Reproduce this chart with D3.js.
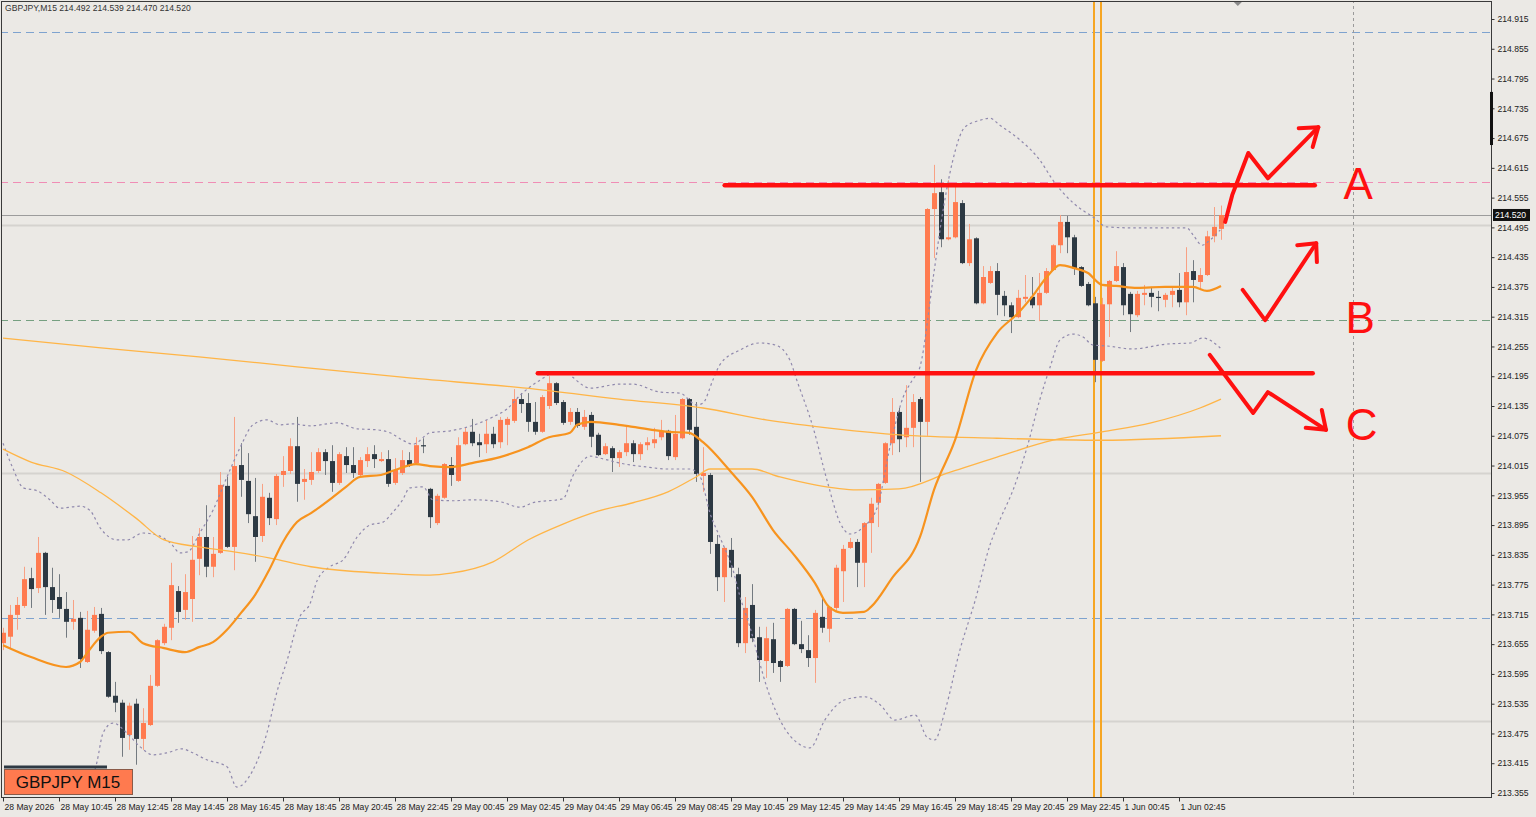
<!DOCTYPE html>
<html>
<head>
<meta charset="utf-8">
<script src="https://cdn.jsdelivr.net/npm/d3@7"></script>
<style>
  body { margin: 0; background: #ebe9e5; }
  svg { display: block; }
  .axis text { font-family: "Liberation Sans", Arial, sans-serif; font-size: 8.6px; fill: #222; }
  .axis line { stroke: #333; }
</style>
</head>
<body>
<svg width="1536" height="817"></svg>
<script>
"use strict";

// GBPJPY M15, bar 0 = 28 May 08:45
const candleO = [
  213.657,213.670,213.714,213.732,213.788,213.768,213.839,213.770,213.750,213.726,
  213.700,213.708,213.619,213.682,213.716,213.639,213.551,213.537,213.472,213.535,
  213.464,213.492,213.571,213.657,213.688,213.762,213.724,213.746,213.827,213.871,
  213.811,213.839,213.974,213.851,214.016,213.984,213.913,213.873,213.950,213.907,
  213.996,214.004,214.054,213.982,213.986,214.004,214.042,214.024,213.980,214.034,
  214.016,213.996,214.024,214.038,214.024,214.028,213.980,214.000,214.026,214.020,
  214.056,213.968,213.899,213.950,214.016,213.984,214.058,214.083,214.062,214.058,
  214.079,214.062,214.097,214.105,214.149,214.141,214.103,214.083,214.135,214.181,
  214.143,214.103,214.123,214.093,214.117,214.077,214.038,214.050,214.030,214.042,
  214.060,214.038,214.056,214.060,214.072,214.085,214.032,214.070,214.149,214.093,
  213.994,213.996,213.857,213.790,213.845,213.796,213.657,213.734,213.669,213.621,
  213.665,213.621,213.611,213.726,213.655,213.643,213.627,213.710,213.686,213.728,
  213.802,213.849,213.861,213.819,213.899,213.940,213.980,214.060,214.123,214.072,
  214.091,214.149,214.103,214.532,214.566,214.471,214.475,214.544,214.423,214.473,
  214.342,214.383,214.407,214.357,214.338,214.314,214.351,214.355,214.338,214.363,
  214.409,214.459,214.506,214.475,214.415,214.381,214.342,214.226,214.340,214.387,
  214.415,214.361,214.318,214.359,214.363,214.355,214.349,214.359,214.369,214.344,
  214.407,214.385,214.399,214.477,214.492
];
const candleH = [
  213.688,213.734,213.750,213.811,213.809,213.871,213.841,213.809,213.796,213.760,
  213.744,213.720,213.722,213.730,213.728,213.641,213.579,213.543,213.537,213.545,
  213.526,213.593,213.665,213.696,213.819,213.772,213.796,213.873,213.889,213.935,
  213.871,214.002,213.992,214.113,214.060,214.040,213.990,213.978,213.960,213.998,
  214.034,214.070,214.113,214.008,214.042,214.050,214.048,214.056,214.042,214.052,
  214.052,214.032,214.052,214.056,214.042,214.046,214.030,214.046,214.042,214.072,
  214.070,213.970,213.958,214.020,214.032,214.072,214.091,214.109,214.079,214.107,
  214.093,214.113,214.113,214.169,214.161,214.161,214.143,214.157,214.195,214.183,
  214.147,214.131,214.131,214.127,214.123,214.081,214.060,214.054,214.046,214.095,
  214.066,214.062,214.072,214.091,214.107,214.087,214.117,214.151,214.151,214.143,
  214.052,214.000,213.875,213.851,213.869,213.809,213.750,213.776,213.690,213.690,
  213.698,213.623,213.728,213.728,213.702,213.673,213.724,213.748,213.732,213.815,
  213.855,213.869,213.867,213.901,213.950,213.980,214.062,214.151,214.131,214.177,
  214.159,214.153,214.534,214.621,214.592,214.590,214.580,214.550,214.502,214.475,
  214.417,214.417,214.423,214.367,214.344,214.369,214.399,214.395,214.403,214.413,
  214.461,214.520,214.518,214.480,214.417,214.385,214.355,214.353,214.389,214.447,
  214.423,214.365,214.367,214.379,214.375,214.367,214.363,214.375,214.403,214.455,
  214.429,214.413,214.488,214.536,214.539
];
const candleL = [
  213.643,213.647,213.684,213.728,213.728,213.758,213.714,213.718,213.708,213.668,
  213.684,213.607,213.617,213.678,213.635,213.547,213.518,213.428,213.442,213.412,
  213.442,213.490,213.569,213.653,213.663,213.698,213.704,213.700,213.794,213.790,
  213.790,213.837,213.849,213.804,213.952,213.899,213.821,213.861,213.895,213.895,
  213.972,213.998,213.942,213.946,213.976,214.000,213.996,213.962,213.976,214.000,
  213.990,213.992,214.012,214.010,214.022,213.972,213.976,213.996,214.012,214.016,
  214.040,213.889,213.895,213.948,213.974,213.982,214.056,214.054,214.032,214.040,
  214.050,214.050,214.056,214.101,214.121,214.083,214.077,214.081,214.129,214.137,
  214.097,214.097,214.091,214.087,214.052,214.034,214.036,214.002,214.012,214.034,
  214.022,214.026,214.046,214.050,214.066,214.026,214.026,214.068,214.077,213.982,
  213.962,213.837,213.762,213.740,213.790,213.649,213.637,213.659,213.579,213.587,
  213.597,213.579,213.609,213.653,213.637,213.609,213.577,213.678,213.659,213.720,
  213.740,213.847,213.770,213.770,213.839,213.891,213.978,214.036,214.042,214.052,
  214.052,213.982,214.075,214.433,214.455,214.469,214.473,214.421,214.417,214.340,
  214.340,214.381,214.318,214.316,214.282,214.312,214.344,214.332,214.306,214.361,
  214.407,214.443,214.443,214.399,214.375,214.336,214.183,214.224,214.274,214.385,
  214.318,214.284,214.314,214.338,214.334,214.326,214.334,214.334,214.334,214.318,
  214.344,214.369,214.397,214.465,214.470
];
const candleC = [
  213.678,213.714,213.734,213.786,213.766,213.839,213.770,213.744,213.726,213.700,
  213.706,213.625,213.684,213.714,213.641,213.549,213.537,213.466,213.531,213.464,
  213.496,213.571,213.663,213.690,213.774,213.720,213.760,213.825,213.871,213.811,
  213.837,213.976,213.851,214.014,213.986,213.917,213.871,213.952,213.909,213.994,
  214.004,214.054,213.978,213.988,214.002,214.042,214.024,213.980,214.038,214.016,
  214.000,214.026,214.038,214.028,214.028,213.978,214.006,214.026,214.016,214.056,
  214.054,213.911,213.954,214.018,213.996,214.056,214.083,214.060,214.056,214.079,
  214.058,214.107,214.109,214.149,214.139,214.103,214.083,214.153,214.181,214.141,
  214.101,214.123,214.095,214.113,214.073,214.036,214.054,214.030,214.042,214.060,
  214.038,214.058,214.062,214.068,214.085,214.034,214.079,214.149,214.087,213.998,
  214.000,213.861,213.790,213.849,213.809,213.657,213.728,213.667,213.623,213.667,
  213.617,213.609,213.726,213.655,213.645,213.627,213.718,213.688,213.730,213.809,
  213.847,213.861,213.819,213.899,213.938,213.978,214.060,214.123,214.068,214.091,
  214.143,214.103,214.532,214.564,214.471,214.475,214.546,214.423,214.471,214.342,
  214.395,214.407,214.359,214.338,214.314,214.353,214.355,214.338,214.363,214.407,
  214.459,214.506,214.475,214.413,214.377,214.338,214.228,214.340,214.387,214.417,
  214.338,214.320,214.361,214.363,214.355,214.353,214.359,214.367,214.344,214.405,
  214.389,214.399,214.477,214.496,214.520
];

// moving averages (bar index, price)
const maFastIdx = [0,4,9,11,12,14,15,18,20,23,26,28,30,32,34,36,38,40,42,44,47,49,51,54,56,59,61,64,67,71,
  75,78,81,82,84,88,90,95,98,100,104,107,110,113,116,118,120,123,124,127,131,133,136,139,142,145,147,149,151,153,
  155,157,159,162,166,170,172,174];
const maFastVal = [213.653,213.629,213.609,213.619,213.637,213.670,213.678,213.680,213.657,213.647,
  213.639,213.649,213.659,213.684,213.718,213.754,213.804,213.861,213.901,213.919,
  213.950,213.972,213.992,213.996,214.006,214.018,214.014,214.012,214.020,214.032,
  214.052,214.072,214.081,214.097,214.103,214.097,214.093,214.083,214.081,214.062,
  214.002,213.952,213.885,213.835,213.778,213.730,213.718,213.720,213.730,213.788,
  213.871,213.966,214.066,214.207,214.282,214.322,214.355,214.393,214.419,214.413,
  214.403,214.379,214.377,214.373,214.375,214.375,214.367,214.377];

const maSlowIdx = [0,14,28,42,57,76,88,100,109,119,128,142,157,174];
const maSlowVal = [214.272,214.252,214.234,214.214,214.193,214.169,214.149,214.131,214.107,214.089,214.077,214.070,214.066,214.075];

const maMidIdx = [0,4,9,14,19,23,28,33,38,44,54,61,64,70,75,80,85,90,95,99,
  101,107,111,116,122,128,135,142,150,157,164,171,174];
const maMidVal = [214.048,214.022,214.002,213.960,213.909,213.865,213.851,213.841,213.829,213.811,
  213.798,213.794,213.798,213.821,213.865,213.897,213.923,213.940,213.962,213.992,
  214.008,214.008,213.992,213.976,213.966,213.968,214.000,214.032,214.066,214.083,
  214.101,214.131,214.149];

// bollinger bands
const bbUpIdx = [0,1.4,2.9,4.9,6.7,8.1,11,12.4,13.9,16.3,17.7,20,22,23.9,25.3,26.4,28.1,30,32,33.9,
  35.7,37.7,39.6,41.4,43.9,47.7,50.6,53.4,55.3,57.1,58.6,61,63.9,68.1,70,72,73.9,76.7,78.6,80.6,
  81.4,83.9,88.1,90,93.9,96.7,99.1,100,101.4,102.4,105.3,108.1,110.3,112.4,113.4,115.7,117.7,119.6,121,122.9,
  124.9,126.7,128.6,129.9,131,132.9,134.3,135.6,137.4,139.6,141,142.4,145.3,148.1,150,152.9,155.7,157.7,161.4,166.3,
  169.1,170,171.3,172.4,173.9];
const bbUpVal = [214.060,214.010,213.970,213.964,213.946,213.929,213.933,213.925,213.889,213.865,
  213.865,213.879,213.875,213.859,213.839,213.841,213.879,213.925,213.992,214.052,
  214.097,214.107,214.097,214.099,214.095,214.101,214.089,214.087,214.081,214.066,
  214.058,214.081,214.085,214.101,214.113,214.129,214.157,214.187,214.201,214.203,
  214.193,214.171,214.179,214.179,214.163,214.161,214.137,214.141,214.187,214.218,
  214.248,214.262,214.258,214.228,214.187,214.093,213.986,213.899,213.877,213.891,
  213.931,214.052,214.153,214.187,214.214,214.395,214.530,214.625,214.697,214.711,
  214.715,214.701,214.671,214.631,214.590,214.544,214.516,214.496,214.494,214.494,
  214.494,214.480,214.459,214.469,214.490];
const bbLowIdx = [8.1,11.7,13.4,14.3,15.7,17.7,19.6,21.4,23.4,25.6,27.1,29.1,32,33.4,35.7,37.7,39.1,40.6,42.4,43.9,
  44.9,46.7,48.6,50.6,52.4,54.3,55.7,57.1,58.1,60,61.4,64.3,67.1,71,73.9,75.7,80,81.4,82.9,83.9,
  85.3,88.1,92,94.9,98.1,99.6,101,102.4,104.3,105.3,106.7,108.1,109.1,111,113.9,115.3,117.4,120.3,123.1,125.3,
  127.4,130.3,132.1,133.1,134.6,136.7,138.9,141,142.4,144.3,146.3,148.1,149.6,151,152.9,154.3,155.7,157.7,161.4,166.3,
  169.6,171.4,173.9];
const bbLowVal = [213.311,213.351,213.416,213.476,213.496,213.476,213.448,213.432,213.436,213.444,
  213.436,213.422,213.408,213.367,213.401,213.476,213.557,213.623,213.710,213.738,
  213.784,213.811,213.825,213.871,213.895,213.901,213.921,213.946,213.970,213.972,
  213.946,213.944,213.946,213.942,213.931,213.940,213.948,213.994,214.026,214.034,
  214.030,214.020,214.012,214.008,214.008,213.992,213.919,213.871,213.804,213.750,
  213.690,213.617,213.569,213.502,213.452,213.446,213.502,213.543,213.549,213.533,
  213.502,213.512,213.466,213.462,213.522,213.643,213.744,213.855,213.905,213.966,
  214.052,214.147,214.214,214.268,214.280,214.274,214.258,214.256,214.250,214.260,
  214.262,214.272,214.252];

// price levels on the chart
const roundLevels = [214.5, 214.0, 213.5];
const dashLevels = [214.889, 214.586, 214.308, 213.708];
const dashColors = ["#7ea3cf", "#f08db5", "#76a081", "#7ea3cf"];
const bidPrice = 214.520;

// red hand-drawn analysis
const redLevelPrice = [214.580, 214.201];
const redLevelFrom = [103.1, 76.4];
const redLevelTo = [187.4, 187.1];
const arrowA = [[174.6,214.506],[175.6,214.560],[177.9,214.645],[180.7,214.594],[187.9,214.697]];
const headA = [[185.1,214.695],[187.9,214.697],[187.1,214.657]];
const arrowB = [[177.1,214.369],[180.3,214.308],[187.6,214.463]];
const headB = [[184.9,214.459],[187.6,214.463],[187.7,214.425]];
const arrowC = [[172.4,214.238],[178.6,214.121],[180.7,214.163],[189.0,214.087]];
const headC = [[186.1,214.091],[189.0,214.087],[188.4,214.127]];
const scenarioLabels = ["A", "B", "C"];
const scenarioIdx = [193.6, 193.9, 194.1];
const scenarioPrice = [214.552, 214.282, 214.066];

const sessionBreaks = [156, 157];
const crosshairIdx = 192.9;

const yTickVals = [213.355,213.415,213.475,213.535,213.595,213.655,213.715,213.775,213.835,213.895,
  213.955,214.015,214.075,214.135,214.195,214.255,214.315,214.375,214.435,214.495,
  214.555,214.615,214.675,214.735,214.795,214.855,214.915];
const xTickIdx = [0,8,16,24,32,40,48,56,64,72,80,88,96,104,112,120,128,136,144,152,160,168];
const xTickLabels = ["28 May 2026","28 May 10:45","28 May 12:45","28 May 14:45","28 May 16:45","28 May 18:45",
  "28 May 20:45","28 May 22:45","29 May 00:45","29 May 02:45","29 May 04:45","29 May 06:45","29 May 08:45",
  "29 May 10:45","29 May 12:45","29 May 14:45","29 May 16:45","29 May 18:45","29 May 20:45","29 May 22:45",
  "1 Jun 00:45","1 Jun 02:45"];

let svg = d3.select("svg"),
    plotR = 1491,
    plotB = 797;

let x = d3.scaleLinear().domain([0, 174]).range([3, 1221]);
let y = d3.scaleLinear().domain([213.355, 214.915]).range([793, 19]);

svg.append("rect").attr("width", 1536).attr("height", 817).attr("fill", "#ebe9e5");

svg.append("clipPath").attr("id", "plotClip")
  .append("rect").attr("x", 2).attr("y", 2).attr("width", plotR - 2).attr("height", plotB - 2);

let plot = svg.append("g").attr("clip-path", "url(#plotClip)");

// round number levels
plot.selectAll("line.round").data(roundLevels).join("line")
  .attr("x1", 0).attr("x2", plotR)
  .attr("y1", d => Math.round(y(d)) + 0.5).attr("y2", d => Math.round(y(d)) + 0.5)
  .attr("stroke", "#d5d3cf").attr("stroke-width", 2);

// dashed levels
plot.selectAll("line.dash").data(dashLevels).join("line")
  .attr("x1", 0).attr("x2", plotR)
  .attr("y1", d => Math.round(y(d)) + 0.5).attr("y2", d => Math.round(y(d)) + 0.5)
  .attr("stroke", (d, i) => dashColors[i]).attr("stroke-width", 1.2)
  .attr("stroke-dasharray", "8,5");

// bid line
plot.append("line")
  .attr("x1", 0).attr("x2", plotR)
  .attr("y1", Math.round(y(bidPrice)) + 0.5).attr("y2", Math.round(y(bidPrice)) + 0.5)
  .attr("stroke", "#9c9c9c").attr("stroke-width", 1);

// crosshair vertical
plot.append("line")
  .attr("x1", Math.round(x(crosshairIdx)) + 0.5).attr("x2", Math.round(x(crosshairIdx)) + 0.5)
  .attr("y1", 0).attr("y2", plotB)
  .attr("stroke", "#9a9a9a").attr("stroke-dasharray", "3,3");

// weekend separator
plot.selectAll("line.sess").data(sessionBreaks).join("line")
  .attr("x1", d => x(d) - 1).attr("x2", d => x(d) - 1)
  .attr("y1", 0).attr("y2", plotB)
  .attr("stroke", "#f6a623").attr("stroke-width", 2);

// candles
let bars = candleO.map((o, i) => ({ i: i, o: o, h: candleH[i], l: candleL[i], c: candleC[i] }));
let cg = plot.append("g");
cg.selectAll("line.wick").data(bars).join("line")
  .attr("x1", d => Math.round(x(d.i)) + 0.5).attr("x2", d => Math.round(x(d.i)) + 0.5)
  .attr("y1", d => y(d.h)).attr("y2", d => y(d.l))
  .attr("stroke", d => d.c >= d.o ? "#f8a184" : "#737a80").attr("stroke-width", 1);
cg.selectAll("rect.body").data(bars).join("rect")
  .attr("x", d => Math.round(x(d.i)) - 2)
  .attr("width", 5)
  .attr("y", d => y(Math.max(d.o, d.c)))
  .attr("height", d => Math.max(1.2, Math.abs(y(d.o) - y(d.c))))
  .attr("fill", d => d.c >= d.o ? "#ff7b50" : "#2d3943");

// indicators
let lineGen = d3.line().x(d => x(d[0])).y(d => y(d[1])).curve(d3.curveMonotoneX);
function pairs(a, b) { return a.map((v, k) => [v, b[k]]); }

plot.append("path").datum(pairs(bbUpIdx, bbUpVal))
  .attr("d", lineGen).attr("fill", "none")
  .attr("stroke", "#9089ad").attr("stroke-width", 1.2).attr("stroke-dasharray", "2.5,3");
plot.append("path").datum(pairs(bbLowIdx, bbLowVal))
  .attr("d", lineGen).attr("fill", "none")
  .attr("stroke", "#9089ad").attr("stroke-width", 1.2).attr("stroke-dasharray", "2.5,3");
plot.append("path").datum(pairs(maSlowIdx, maSlowVal))
  .attr("d", lineGen).attr("fill", "none").attr("stroke", "#ffb547").attr("stroke-width", 1.3);
plot.append("path").datum(pairs(maMidIdx, maMidVal))
  .attr("d", lineGen).attr("fill", "none").attr("stroke", "#ffb547").attr("stroke-width", 1.3);
plot.append("path").datum(pairs(maFastIdx, maFastVal))
  .attr("d", lineGen).attr("fill", "none").attr("stroke", "#f7931e").attr("stroke-width", 2.2);

// red analysis drawing
let red = "#ff1010";
plot.selectAll("line.redlvl").data(redLevelPrice).join("line")
  .attr("x1", (d, i) => x(redLevelFrom[i])).attr("x2", (d, i) => x(redLevelTo[i]))
  .attr("y1", d => y(d)).attr("y2", d => y(d))
  .attr("stroke", red).attr("stroke-width", 4.5).attr("stroke-linecap", "round");

let polyGen = d3.line().x(d => x(d[0])).y(d => y(d[1]));
[arrowA, headA, arrowB, headB, arrowC, headC].forEach(p => {
  plot.append("path").datum(p).attr("d", polyGen)
    .attr("fill", "none").attr("stroke", red).attr("stroke-width", 4)
    .attr("stroke-linecap", "round").attr("stroke-linejoin", "round");
});
plot.selectAll("text.scn").data(scenarioLabels).join("text")
  .attr("x", (d, i) => x(scenarioIdx[i])).attr("y", (d, i) => y(scenarioPrice[i]))
  .attr("text-anchor", "middle")
  .attr("font-family", "Liberation Sans, Arial, sans-serif").attr("font-size", 44)
  .attr("fill", red).text(d => d);

// frame
svg.append("rect").attr("x", 1.5).attr("y", 1.5).attr("width", plotR - 1).attr("height", plotB - 1)
  .attr("fill", "none").attr("stroke", "#3a3a3a");

// right axis
let yAxis = svg.append("g").attr("class", "axis")
  .attr("transform", "translate(" + (plotR + 0.5) + ",0)")
  .call(d3.axisRight(y).tickValues(yTickVals).tickFormat(d3.format(".3f")).tickSize(3).tickPadding(3));
yAxis.select(".domain").remove();

// bottom axis
let xAxis = svg.append("g").attr("class", "axis")
  .attr("transform", "translate(0," + (plotB + 0.5) + ")")
  .call(d3.axisBottom(x).tickValues(xTickIdx).tickFormat((d, k) => xTickLabels[k]).tickSize(4).tickPadding(2));
xAxis.select(".domain").remove();
xAxis.selectAll("text").attr("text-anchor", "start").attr("x", 1);

// axis marker bar and current price tag
svg.append("rect").attr("x", plotR - 1).attr("width", 3)
  .attr("y", y(214.768)).attr("height", y(214.661) - y(214.768)).attr("fill", "#111");
svg.append("rect").attr("x", plotR + 2).attr("y", y(bidPrice) - 6).attr("width", 37).attr("height", 12).attr("fill", "#111");
svg.append("text").attr("x", plotR + 4).attr("y", y(bidPrice) + 3)
  .attr("font-family", "Liberation Sans, Arial, sans-serif").attr("font-size", 8.6)
  .attr("fill", "#fff").text(d3.format(".3f")(bidPrice));

// scroll marker at top
svg.append("path")
  .attr("d", d3.line()([[x(176.4) - 4, 2], [x(176.4) + 4, 2], [x(176.4), 6]]) + "Z")
  .attr("fill", "#8a8a8a");

// header
svg.append("text").attr("x", 5).attr("y", 11)
  .attr("font-family", "Liberation Sans, Arial, sans-serif").attr("font-size", 8.6).attr("fill", "#333")
  .text("GBPJPY,M15  " + [candleO[174], candleH[174], candleL[174], candleC[174]].map(d3.format(".3f")).join(" "));

// symbol label
svg.append("line").attr("x1", 4).attr("x2", 107).attr("y1", 767).attr("y2", 767)
  .attr("stroke", "#2d3943").attr("stroke-width", 3);
svg.append("rect").attr("x", 4.5).attr("y", 769.5).attr("width", 128).attr("height", 25)
  .attr("fill", "#ff7a4f").attr("stroke", "#8a5a48");
svg.append("text").attr("x", 68).attr("y", 788).attr("text-anchor", "middle")
  .attr("font-family", "Liberation Sans, Arial, sans-serif").attr("font-size", 17).attr("fill", "#111")
  .text("GBPJPY M15");
</script>
</body>
</html>
